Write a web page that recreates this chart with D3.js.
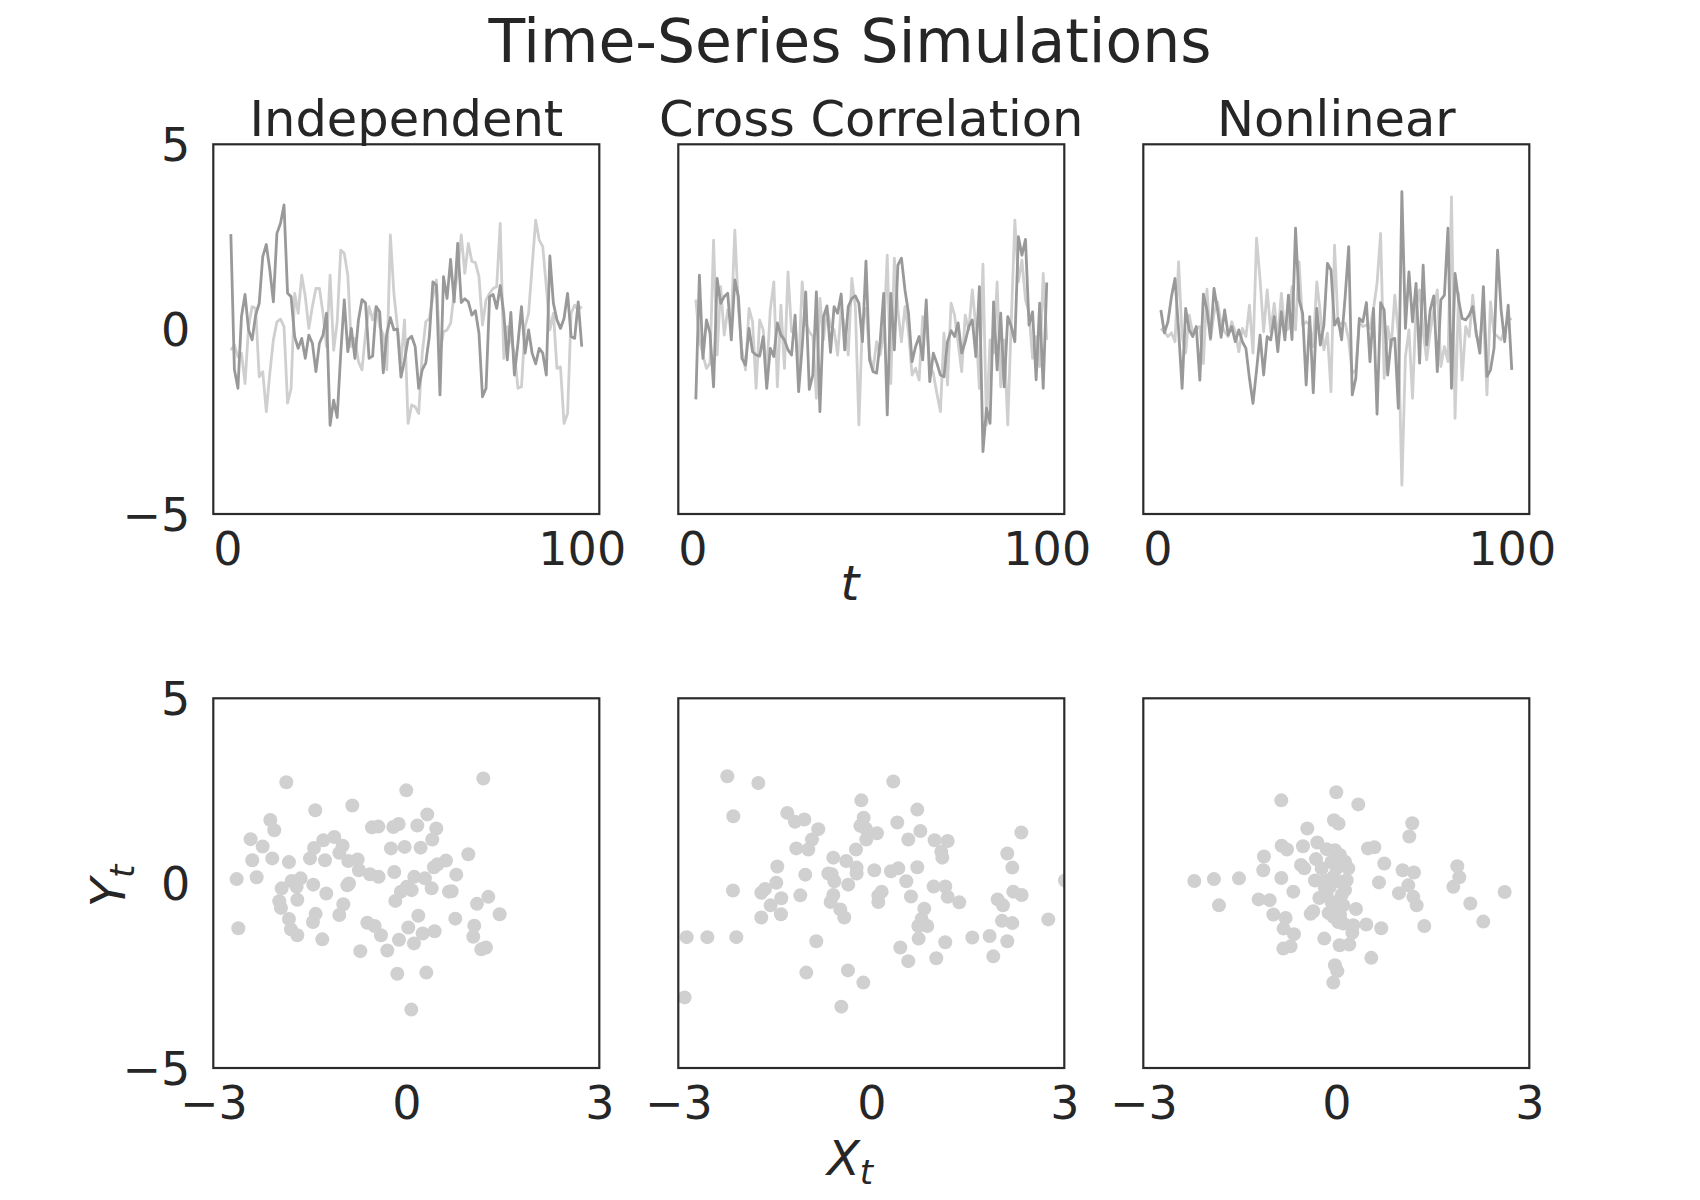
<!DOCTYPE html>
<html><head><meta charset="utf-8">
<script src="https://cdn.jsdelivr.net/npm/d3@7"></script>
<style>body{margin:0;background:#fff}</style>
</head><body>
<svg id="chart" width="1700" height="1200"></svg>
<script>
// ---------------- DATA ----------------
const tValues = d3.range(1, 101);
const panelTitles = ["Independent", "Cross Correlation", "Nonlinear"];
const tTicks = [0, 100];
const yTicks = [-5, 0, 5];
const xTicks = [-3, 0, 3];

const indepDark = [2.57,-1.09,-1.6,0.34,0.94,-0.02,-0.29,0.38,0.7,1.96,
  2.29,1.6,0.74,2.59,2.86,3.36,0.97,0.88,-0.2,-0.52,
  -0.25,-0.79,-0.16,-0.38,-1.15,-0.38,-0.16,0.43,-2.6,-1.92,
  -2.39,-0.66,0.79,-0.61,0.02,-0.79,0.25,0.8,0.71,-0.79,
  -0.73,0.61,0.47,-1.18,-0.11,0.31,-0.02,0,-1.3,-0.84,
  -0.28,-0.19,-0.47,-1.6,-1.1,-0.91,-0.2,1.28,1.19,-1.78,
  1.42,0.83,1.89,0.74,2.32,0.72,0.82,0.74,0.38,0.5,
  -0.11,-1.83,-1.6,0.88,0.94,0.56,1.18,0.43,-0.83,0.45,
  -1.24,-0.38,0.61,-0.65,-0.02,-0.65,-0.94,-0.52,-0.65,-1.24,
  1.98,0.7,0.25,0.02,0.29,0.97,-0.2,-0.25,0.74,-0.47];
const indepLight = [-0.57,-0.43,-0.75,-0.65,-1.47,0.07,0.61,0.56,-1.29,-1.15,
  -2.23,-1.19,-0.29,0.2,0.27,0.07,-2.0,-1.6,0.97,0.43,
  1.46,0.88,0.02,0.61,1.1,1.1,0.43,-0.47,1.46,-0.57,
  0.2,2.14,2.05,1.46,-0.47,-0.25,-0.88,-1.1,-0.11,0.61,
  0.25,0.61,0.07,-0.16,-1.1,2.55,0.97,0.07,-0.92,0.25,
  -2.55,-2.05,-2.1,-2.28,-0.65,0.2,0.29,0.88,1.33,-0.65,
  -0.07,-0.02,0.16,0.97,1.51,2.55,1.51,2.32,1.83,1.8,
  1.42,0.11,0.79,0.97,1.1,1.15,2.86,-0.79,0.07,-0.29,
  -0.65,-1.6,-1.56,0.07,0.43,1.69,2.95,2.41,2.23,1.15,
  -0.02,0.43,-1.06,-1.02,-2.55,-2.28,0.43,0.65,0.52,0.61];
const crossDark = [-1.9,1.46,-0.79,0.25,-0.11,-1.56,1.37,0.7,0.88,0.97,
  -0.29,1.33,0.88,-0.79,-0.97,0.02,-0.61,-0.7,-0.73,-0.2,
  -1.6,-0.52,-0.74,0.17,-0.16,-0.29,-0.56,-0.7,0.38,-1.69,
  -0.47,1.01,-1.63,-1.24,1.01,-2.23,0.34,0.63,-0.63,0.61,
  0.43,0.95,-0.56,0.61,0.83,0.9,0.7,-0.34,1.84,-0.83,
  -1.15,-1.19,-0.34,0.97,-2.32,0.97,-0.56,1.73,1.92,1.06,
  0.43,-0.88,-0.47,-0.2,-0.83,0.79,-1.42,-0.65,-0.92,-1.24,
  -1.29,-0.34,-0.04,-0.2,0.17,-0.65,-0.34,0.07,0.25,-0.74,
  1.15,-3.31,-2.14,-2.55,0.74,-1.1,0.43,-1.56,0.34,0.07,
  -0.34,2.5,2.0,2.43,0.11,0.47,-1.37,0.7,-1.6,1.26];
const crossLight = [0.8,-0.29,-0.7,-1.06,-0.92,2.41,-0.7,1.15,-0.16,0.52,
  0.2,2.68,0.56,-0.56,-1.1,0.56,0.2,-1.6,0.25,-0.02,
  -1.19,0.52,1.28,-1.56,0.65,-1.06,1.55,-0.07,0.11,-1.06,
  1.28,0.16,-0.07,-0.2,-1.87,0.83,-0.29,0.56,0.07,-0.02,
  -0.7,0.56,0.02,-0.7,1.37,0.61,-2.59,0.25,0.56,-0.7,
  -1.1,-0.34,-0.7,-0.11,2.0,-1.47,1.92,0.52,-0.34,0.61,
  -0.07,-1.24,-1.06,-1.38,0.34,0.2,-0.97,-1.19,-1.74,-2.23,
  -0.11,-1.51,0.7,0.38,-0.38,-1.15,0.38,-0.02,1.06,0.07,
  -1.6,1.76,-2.59,-0.29,-0.65,1.28,-1.56,-0.29,-2.59,0.25,
  2.95,1.28,1.87,0.79,0.43,-0.79,-0.2,-1.01,1.51,-0.29];
const nonlinDark = [0.52,-0.1,0.2,0.88,1.37,-0.02,-1.6,0.56,-0.02,-0.2,
  0.07,-1.38,0.95,0.52,-0.25,1.1,0.52,-0.22,0.52,-0.16,
  0.07,-0.34,-0.02,-0.34,-0.52,-1.33,-2.01,-1.11,-0.16,-1.24,
  -0.2,-0.29,0.34,-0.61,0.47,-0.29,0.92,-0.28,2.73,0.79,
  0.43,-1.51,0.34,-1.72,0.56,-0.43,0.11,1.78,1.6,0.11,
  0.29,-0.29,0.88,2.23,-1.78,-1.33,0.29,0.2,0.72,-0.88,
  0.56,-2.3,0.72,0.52,-1.24,-0.29,-0.25,-2.14,3.72,0.02,
  1.55,0.2,1.24,-0.92,1.73,-0.43,0.52,0.9,-1.15,0.79,
  0.92,2.73,-1.6,1.51,0.79,0.29,0.25,0.38,0.61,-0.11,
  -0.65,1.15,-1.28,-1.1,-0.52,2.14,0.52,-0.34,0.65,-1.1];
const nonlinLight = [0.02,-0.07,-0.2,-0.1,-0.34,1.82,-0.2,-0.65,0.38,-0.11,
  0.02,0.07,-0.93,1.08,-0.29,0.43,0.74,0.16,-0.07,-0.2,
  0.2,-0.07,-0.61,0.02,-0.2,0.65,-0.65,2.46,1.33,-0.07,
  1.06,-0.07,0.7,-0.29,0.97,-0.07,0.02,1.15,-0.02,1.82,
  0.11,0.2,0.11,-0.47,1.28,0.43,-0.56,-0.11,-1.69,2.27,
  0.11,0.17,0.16,-0.29,-1.2,-1.1,0.2,0.07,0.11,0.02,
  0.56,1.24,2.59,-1.33,0.07,-0.47,0.92,-0.11,-4.22,-0.74,
  -0.02,-1.87,0.61,1.06,-0.07,-0.83,-0.07,0.52,1.06,-1.01,
  -0.47,-0.88,3.58,-2.41,0.97,-1.38,0.07,-0.2,0.92,-0.2,
  -0.29,0.43,-1.78,0.74,-0.11,-0.2,-0.29,-0.02,0.25,0.29];

const indepScatterX = [-1.865,1.197,0,-1.415,-0.839,-2.114,-2.052,-2.42,-2.233,-2.394,
  -2.083,-1.824,-2.637,-2.326,-2.611,0.326,0.171,0.466,0.404,0.223,
  -0.534,-0.435,-0.202,-0.119,-0.238,-0.026,-1.29,-1.119,-0.99,-1.435,
  -1.041,-1.497,-1.264,-0.902,-0.756,-0.736,-0.565,-0.43,-0.187,0.964,
  0.617,0.487,0.43,0.777,-1.782,-1.642,-1.938,-1.705,-1.446,-1.244,
  -0.891,-0.917,0.124,0.29,0.394,0.005,0.083,-0.083,-0.171,0.663,
  0.705,1.275,1.098,1.451,-1.974,-1.948,-1.694,-0.979,-1.041,-1.409,
  -1.451,-1.824,-1.793,-1.694,-1.306,-0.606,-0.492,-0.394,-0.114,0.031,
  0.187,0.254,0.44,0.119,0.762,1.057,1.041,1.166,1.238,-0.715,
  -0.295,-0.14,0.311,0.078];
const indepScatterY = [2.73,2.83,2.51,1.97,2.10,1.71,1.43,1.19,0.99,0.62,
  0.67,0.57,0.11,0.16,-1.22,1.86,1.56,1.48,1.18,0.96,
  1.51,1.53,1.52,1.60,0.94,0.98,1.16,1.25,1.01,0.95,
  0.82,0.67,0.62,0.6,0.64,0.35,0.24,0.17,0.3,0.78,
  0.61,0.51,0.43,0.23,0.06,0.13,-0.14,-0.1,-0.04,-0.28,
  -0.01,-0.06,0.17,0.13,-0.14,-0.1,-0.19,-0.23,-0.48,-0.23,
  -0.22,-0.37,-0.56,-0.84,-0.49,-0.67,-0.45,-0.57,-0.86,-0.83,
  -1.05,-0.97,-1.25,-1.41,-1.52,-1.07,-1.16,-1.41,-1.53,-1.2,
  -0.88,-1.36,-1.3,-1.63,-0.96,-1.15,-1.45,-1.79,-1.74,-1.84,
  -1.82,-2.45,-2.42,-3.42];
const crossScatterX = [-2.238,-1.756,0.342,-2.145,-0.155,-1.306,-1.187,-1.041,-0.824,-0.922,
  -1.166,-0.979,-1.461,-1.026,-0.591,-0.389,-0.238,-0.119,-0.171,-0.088,
  0.088,-0.078,-0.228,-0.228,0.047,-0.358,-0.668,-0.617,-0.575,-0.591,
  -0.632,-0.482,-0.42,0.404,0.715,0.762,0.575,0.984,1.187,1.088,
  1.104,0.715,0.306,0.42,0.544,0.617,0.969,1.15,1.187,1.368,
  0.161,0.109,0.109,-2.15,-1.653,-1.71,-1.477,-1.399,-1.565,-1.404,
  -1.71,-1.104,0.824,0.782,0.87,0.731,0.736,0.451,0.575,1.01,
  1.15,1.57,1.839,2.114,1.896,2.332,2.114,2.192,2.207,2.337,
  1.964,2.047,2.031,2.192,2.751,3.01,-2.87,-2.549,-2.098,-0.855,
  -1.01,-0.363,-0.124,-0.466,-2.902];
const crossScatterY = [2.89,2.71,2.75,1.81,2.24,1.9,1.66,1.72,1.46,1.18,
  0.94,0.91,0.45,0.23,0.69,0.6,0.91,1.77,1.55,1.48,
  1.35,1.18,0.42,0.26,0.35,-0.04,0.26,0.24,0.05,-0.32,
  -0.51,-0.71,-0.93,1.64,1.99,1.41,1.18,1.16,1.14,0.85,
  0.69,0.43,0.32,0.4,0.05,-0.36,-0.09,-0.09,-0.37,-0.52,
  -0.23,-0.34,-0.51,-0.2,-0.16,-0.26,0.01,-0.41,-0.6,-0.84,
  -0.93,-0.33,-0.69,-0.97,-1.16,-1.16,-1.5,-1.74,-2.11,-2.03,
  -1.6,-1.47,-1.43,-1.57,-1.98,1.37,0.8,0.42,-0.23,-0.32,
  -0.44,-0.6,-1.02,-1.08,-0.98,0.07,-1.46,-1.46,-1.46,-1.57,
  -2.42,-2.36,-2.69,-3.34,-3.09];
const nonlinScatterX = [0,0.342,-0.855,-0.036,0.036,-0.451,1.181,1.135,-0.295,-0.518,
  -0.85,-0.767,0.492,0.591,-1.124,-1.135,-0.549,-0.497,-0.316,-0.15,
  -0.021,0.057,0.135,0.187,0.746,1.031,1.207,1.881,1.912,1.819,
  2.617,2.083,2.285,-2.207,-1.902,-1.513,-1.824,-0.855,-0.668,-0.332,
  -0.124,-0.098,-0.047,0.057,0.135,0.161,0.005,1.119,0.974,1.197,
  1.249,0.663,1.368,-1.207,-1.036,-0.979,-0.788,-0.819,-0.658,-0.824,
  -0.71,-0.399,-0.358,-0.264,-0.202,-0.15,-0.073,0.005,-0.119,-0.047,
  0.031,0.109,0.057,0.306,0.264,0.466,0.699,0.249,-0.187,0.052,
  0.202,0.544,-0.021,0.016,-0.047,0.083,0.109,-0.073,-0.228,-0.176];
const nonlinScatterY = [2.46,2.13,2.24,1.7,1.61,1.48,1.62,1.26,1.1,1.0,
  1.01,0.91,0.94,0.97,0.72,0.35,0.49,0.4,0.65,0.92,
  0.89,0.76,0.58,0.4,0.53,0.35,0.29,0.46,0.16,-0.1,
  -0.24,-0.55,-1.04,0.06,0.11,0.13,-0.6,0.14,-0.23,0.07,
  0.08,-0.1,0.17,0.04,-0.19,0.08,0.4,-0.06,-0.27,-0.37,
  -0.6,0.02,-1.16,-0.44,-0.46,-0.85,-0.94,-1.23,-1.38,-1.77,
  -1.71,-0.83,-0.76,-0.4,0.04,-0.32,-0.51,-0.69,-0.81,-0.91,
  -1.05,-1.09,-0.87,-0.7,-1.14,-1.12,-1.22,-1.34,-1.5,-1.68,
  -1.66,-2.02,-2.22,-2.38,-2.69,-0.32,-0.6,0.58,0.4,-0.14];

// ---------------- LAYOUT / STYLE ----------------
const W = 1700, H = 1200;
const lefts = [213.3, 678.3, 1143.3];
const pw = 386, ph = 369.7, topY = 144.3, botY = 698.3;
const FONT = "'DejaVu Sans', sans-serif";
const TXT = "#262626";
const DARK = "#999999", LIGHT = "#cfcfcf", DOT = "#d0d0d0";
const fmt = d => d < 0 ? "\u2212" + Math.abs(d) : String(d);

const svg = d3.select("#chart");
svg.append("rect").attr("width", W).attr("height", H).attr("fill", "#fff");

svg.append("text").attr("x", 850).attr("y", 62).attr("text-anchor", "middle")
  .attr("font-family", FONT).attr("font-size", 60).attr("fill", TXT)
  .text("Time-Series Simulations");

const panels = [
  {dark: indepDark, light: indepLight, sx: indepScatterX, sy: indepScatterY},
  {dark: crossDark, light: crossLight, sx: crossScatterX, sy: crossScatterY},
  {dark: nonlinDark, light: nonlinLight, sx: nonlinScatterX, sy: nonlinScatterY}
];

function styleAxis(g) {
  g.select(".domain").remove();
  g.selectAll(".tick line").remove();
  g.selectAll(".tick text").attr("font-family", FONT).attr("font-size", 46).attr("fill", TXT);
}

panels.forEach((p, i) => {
  const L = lefts[i];
  // ---- top: time series ----
  const xT = d3.scaleLinear().domain([-3.95, 104.95]).range([L, L + pw]);
  const yT = d3.scaleLinear().domain([-5, 5]).range([topY + ph, topY]);
  const cidT = "clipT" + i;
  svg.append("clipPath").attr("id", cidT).append("rect")
    .attr("x", L).attr("y", topY).attr("width", pw).attr("height", ph);
  const gT = svg.append("g").attr("clip-path", `url(#${cidT})`);
  const line = d3.line().x((d, k) => xT(tValues[k])).y(d => yT(d));
  gT.append("path").datum(p.light).attr("d", line).attr("fill", "none")
    .attr("stroke", LIGHT).attr("stroke-width", 2.8).attr("stroke-linejoin", "round");
  gT.append("path").datum(p.dark).attr("d", line).attr("fill", "none")
    .attr("stroke", DARK).attr("stroke-width", 2.8).attr("stroke-linejoin", "round");
  svg.append("rect").attr("x", L).attr("y", topY).attr("width", pw).attr("height", ph)
    .attr("fill", "none").attr("stroke", "#2b2b2b").attr("stroke-width", 2.2);

  const axT = svg.append("g").attr("transform", `translate(0,${topY + ph})`)
    .call(d3.axisBottom(xT).tickValues(tTicks).tickFormat(fmt).tickSize(0));
  styleAxis(axT);
  axT.selectAll(".tick text").attr("y", 51).attr("dy", 0);

  svg.append("text").attr("x", L + pw / 2).attr("y", 136).attr("text-anchor", "middle")
    .attr("font-family", FONT).attr("font-size", 49.5).attr("fill", TXT)
    .text(panelTitles[i]);

  // ---- bottom: scatter ----
  const xS = d3.scaleLinear().domain([-3, 3]).range([L, L + pw]);
  const yS = d3.scaleLinear().domain([-5, 5]).range([botY + ph, botY]);
  const cidS = "clipS" + i;
  svg.append("clipPath").attr("id", cidS).append("rect")
    .attr("x", L).attr("y", botY).attr("width", pw).attr("height", ph);
  const gS = svg.append("g").attr("clip-path", `url(#${cidS})`);
  gS.selectAll("circle").data(d3.zip(p.sx, p.sy)).join("circle")
    .attr("cx", d => xS(d[0])).attr("cy", d => yS(d[1])).attr("r", 7)
    .attr("fill", DOT);
  svg.append("rect").attr("x", L).attr("y", botY).attr("width", pw).attr("height", ph)
    .attr("fill", "none").attr("stroke", "#2b2b2b").attr("stroke-width", 2.2);

  const axS = svg.append("g").attr("transform", `translate(0,${botY + ph})`)
    .call(d3.axisBottom(xS).tickValues(xTicks).tickFormat(fmt).tickSize(0));
  styleAxis(axS);
  axS.selectAll(".tick text").attr("y", 51).attr("dy", 0);

  if (i === 0) {
    [yT, yS].forEach(ys => {
      const ay = svg.append("g").attr("transform", `translate(${L},0)`)
        .call(d3.axisLeft(ys).tickValues(yTicks).tickFormat(fmt).tickSize(0));
      styleAxis(ay);
      ay.selectAll(".tick text").attr("x", -23).attr("dy", "0.36em");
    });
  }
});

// axis labels
svg.append("text").attr("x", 850).attr("y", 600).attr("text-anchor", "middle")
  .attr("font-family", FONT).attr("font-style", "italic").attr("font-size", 48).attr("fill", TXT)
  .text("t");

const xl = svg.append("text").attr("x", 850).attr("y", 1175).attr("text-anchor", "middle")
  .attr("font-family", FONT).attr("font-style", "italic").attr("font-size", 48).attr("fill", TXT);
xl.append("tspan").text("X");
xl.append("tspan").attr("font-size", 34).attr("dy", 9).text("t");

const yl = svg.append("text").attr("transform", "translate(125,886) rotate(-90)")
  .attr("text-anchor", "middle")
  .attr("font-family", FONT).attr("font-style", "italic").attr("font-size", 48).attr("fill", TXT);
yl.append("tspan").text("Y");
yl.append("tspan").attr("font-size", 34).attr("dy", 9).text("t");
</script>
</body></html>
